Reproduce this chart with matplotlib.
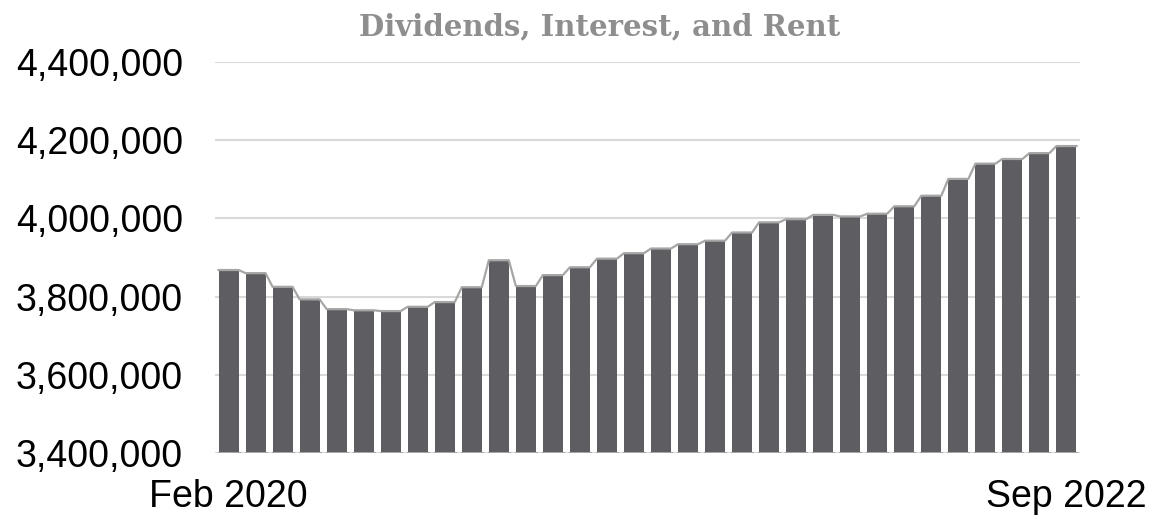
import matplotlib
matplotlib.use("Agg")
import matplotlib.pyplot as plt
import numpy as np
from matplotlib.ticker import FuncFormatter

# Data (monthly, Feb 2020 .. Sep 2022)
months = ["Feb 2020", "Mar 2020", "Apr 2020", "May 2020", "Jun 2020", "Jul 2020",
          "Aug 2020", "Sep 2020", "Oct 2020", "Nov 2020", "Dec 2020", "Jan 2021",
          "Feb 2021", "Mar 2021", "Apr 2021", "May 2021", "Jun 2021", "Jul 2021",
          "Aug 2021", "Sep 2021", "Oct 2021", "Nov 2021", "Dec 2021", "Jan 2022",
          "Feb 2022", "Mar 2022", "Apr 2022", "May 2022", "Jun 2022", "Jul 2022",
          "Aug 2022", "Sep 2022"]
values = [3868000, 3860000, 3825000, 3793000, 3768000, 3765000, 3763000, 3774000,
          3786000, 3824000, 3893000, 3827000, 3855000, 3875000, 3897000, 3911000,
          3923000, 3934000, 3943000, 3964000, 3990000, 3998000, 4009000, 4005000,
          4012000, 4031000, 4058000, 4101000, 4140000, 4152000, 4167000, 4185000]
yticks = [3400000, 3600000, 3800000, 4000000, 4200000, 4400000]
title = "Dividends, Interest, and Rent"

BAR = "#5e5d62"
LINE = "#a6a6a6"
GRID = "#d9d9d9"

fig = plt.figure(figsize=(11.52, 5.2), dpi=100)
ax = fig.add_axes([215/1152, 1-453/520, 865/1152, 391/520])

x = np.arange(len(values))
w = 0.74
base = yticks[0]
ax.bar(x, np.array(values) - base, bottom=base, width=w, color=BAR, zorder=2)

# stepped outline along bar tops
lx, ly = [], []
for xi, v in zip(x, values):
    lx += [xi - w/2, xi + w/2]
    ly += [v, v]
ax.plot(lx, ly, color=LINE, lw=1.6, zorder=3, solid_joinstyle="round")
# bottom segments under each bar
for xi in x:
    ax.plot([xi - w/2, xi + w/2], [base, base], color=LINE, lw=2.2, zorder=3)

ax.set_xlim(-0.5, len(values) - 0.5)
ax.set_ylim(yticks[0], yticks[-1])
ax.set_yticks(yticks)
ax.yaxis.set_major_formatter(FuncFormatter(lambda v, p: f"{int(v):,}"))
ax.grid(axis="y", color=GRID, lw=1.5, zorder=0)
ax.set_axisbelow(True)
for s in ax.spines.values():
    s.set_visible(False)

ax.set_xticks([0, len(values) - 1])
ax.set_xticklabels([months[0], months[-1]])
ax.tick_params(axis="both", length=0, labelsize=27, labelcolor="black")
ax.tick_params(axis="y", pad=23)
ax.tick_params(axis="x", pad=19)
for lab in ax.get_xticklabels() + ax.get_yticklabels():
    lab.set_family("Liberation Sans")

fig.text(600/1152, 1-27/520, title, ha="center", va="center",
         fontsize=21, fontweight="bold", family="DejaVu Serif", color="#8e8e8e")

fig.savefig("out.png", dpi=100)
